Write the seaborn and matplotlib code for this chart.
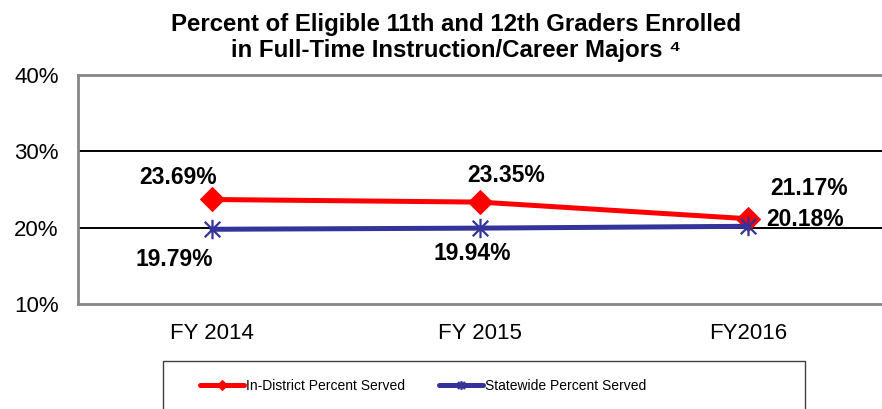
import numpy as np
import pandas as pd
import matplotlib
matplotlib.use("Agg")
import matplotlib.pyplot as plt
from matplotlib.path import Path
from matplotlib.patches import Rectangle
import seaborn as sns

# ====================================================
# DATA
# ====================================================

years = ["FY 2014", "FY 2015", "FY2016"]
in_district = [23.69, 23.35, 21.17]
statewide = [19.79, 19.94, 20.18]
y_ticks = [10, 20, 30, 40]

# label offsets in pixels (dx, dy) for each point
in_offsets = [(-34, 22), (26, 27), (61, 30)]
st_offsets = [(-38, -30), (-8, -25), (57, 7)]

df = pd.DataFrame({
    "Year": years,
    "In-District Percent Served": in_district,
    "Statewide Percent Served": statewide
})

# ====================================================
# STYLE
# ====================================================

sns.set_theme(style="white")
plt.rcParams["font.family"] = ["Liberation Sans", "DejaVu Sans"]
plt.rcParams["text.color"] = "black"
plt.rcParams["xtick.color"] = "black"
plt.rcParams["ytick.color"] = "black"
plt.rcParams["axes.labelcolor"] = "black"

red = "#FF0000"
blue = "#333399"
gray = "#868686"

# asterisk marker like Excel's star
star = Path(
    [(-1, -1), (1, 1), (-1, 1), (1, -1), (0, -1.25), (0, 1.25)],
    [Path.MOVETO, Path.LINETO, Path.MOVETO, Path.LINETO, Path.MOVETO, Path.LINETO]
)

fig = plt.figure(figsize=(8.82, 4.09), dpi=100)
ax = fig.add_axes([78 / 882, 1 - 304 / 409, 804 / 882, 229 / 409])

sns.lineplot(
    data=df, x="Year", y="In-District Percent Served",
    color=red, linewidth=3.6, marker="D", markersize=12,
    markeredgecolor=red, label="In-District Percent Served", ax=ax
)
sns.lineplot(
    data=df, x="Year", y="Statewide Percent Served",
    color=blue, linewidth=3.6, marker=star, markersize=14,
    markeredgewidth=1.6, markeredgecolor=blue, markerfacecolor="none",
    label="Statewide Percent Served", ax=ax
)

ax.set_xlim(-0.5, 2.5)
ax.set_ylim(10, 40)
ax.set_yticks(y_ticks)
ax.set_yticklabels([f"{t}%" for t in y_ticks], fontsize=16)
ax.tick_params(axis="x", labelsize=16, pad=14, labelcolor="black")
ax.tick_params(axis="y", pad=14, labelcolor="black")
ax.tick_params(length=0)
ax.set_xlabel("")
ax.set_ylabel("")

for t in [20, 30]:
    ax.axhline(t, color="black", linewidth=1.4, zorder=1)

for side in ["left", "top", "bottom"]:
    ax.spines[side].set_color(gray)
    ax.spines[side].set_linewidth(2)
ax.spines["right"].set_visible(False)

# ====================================================
# DATA LABELS
# ====================================================

for i, v in enumerate(in_district):
    ax.annotate(f"{v:.2f}%", (i, v), xytext=in_offsets[i],
                textcoords="offset pixels", ha="center", va="center",
                fontsize=16.5, fontweight="bold", color="black")
for i, v in enumerate(statewide):
    ax.annotate(f"{v:.2f}%", (i, v), xytext=st_offsets[i],
                textcoords="offset pixels", ha="center", va="center",
                fontsize=16.5, fontweight="bold", color="black")

# ====================================================
# TITLE
# ====================================================

fig.text(456 / 882, 1 - 25 / 409,
         "Percent of Eligible 11th and 12th Graders Enrolled",
         ha="center", va="center", fontsize=17.3, fontweight="bold")
fig.text(456 / 882, 1 - 50 / 409,
         "in Full-Time Instruction/Career Majors \u2074",
         ha="center", va="center", fontsize=17.3, fontweight="bold")

# ====================================================
# LEGEND
# ====================================================

ax.legend_.remove()
handles, labels = ax.get_legend_handles_labels()
leg = fig.legend(
    handles, labels, ncol=2, loc="center",
    bbox_to_anchor=(423 / 882, 1 - 386 / 409),
    frameon=False, fontsize=10,
    markerscale=0.45, handlelength=3.2, handletextpad=0.15,
    columnspacing=2.4
)

# legend box (runs off the bottom edge like the reference)
fig.patches.append(Rectangle(
    (163 / 882, -0.02), (805 - 163) / 882, (409 - 361) / 409 + 0.02,
    transform=fig.transFigure, fill=False,
    edgecolor="#404040", linewidth=1
))

fig.savefig("out.png", dpi=100)
